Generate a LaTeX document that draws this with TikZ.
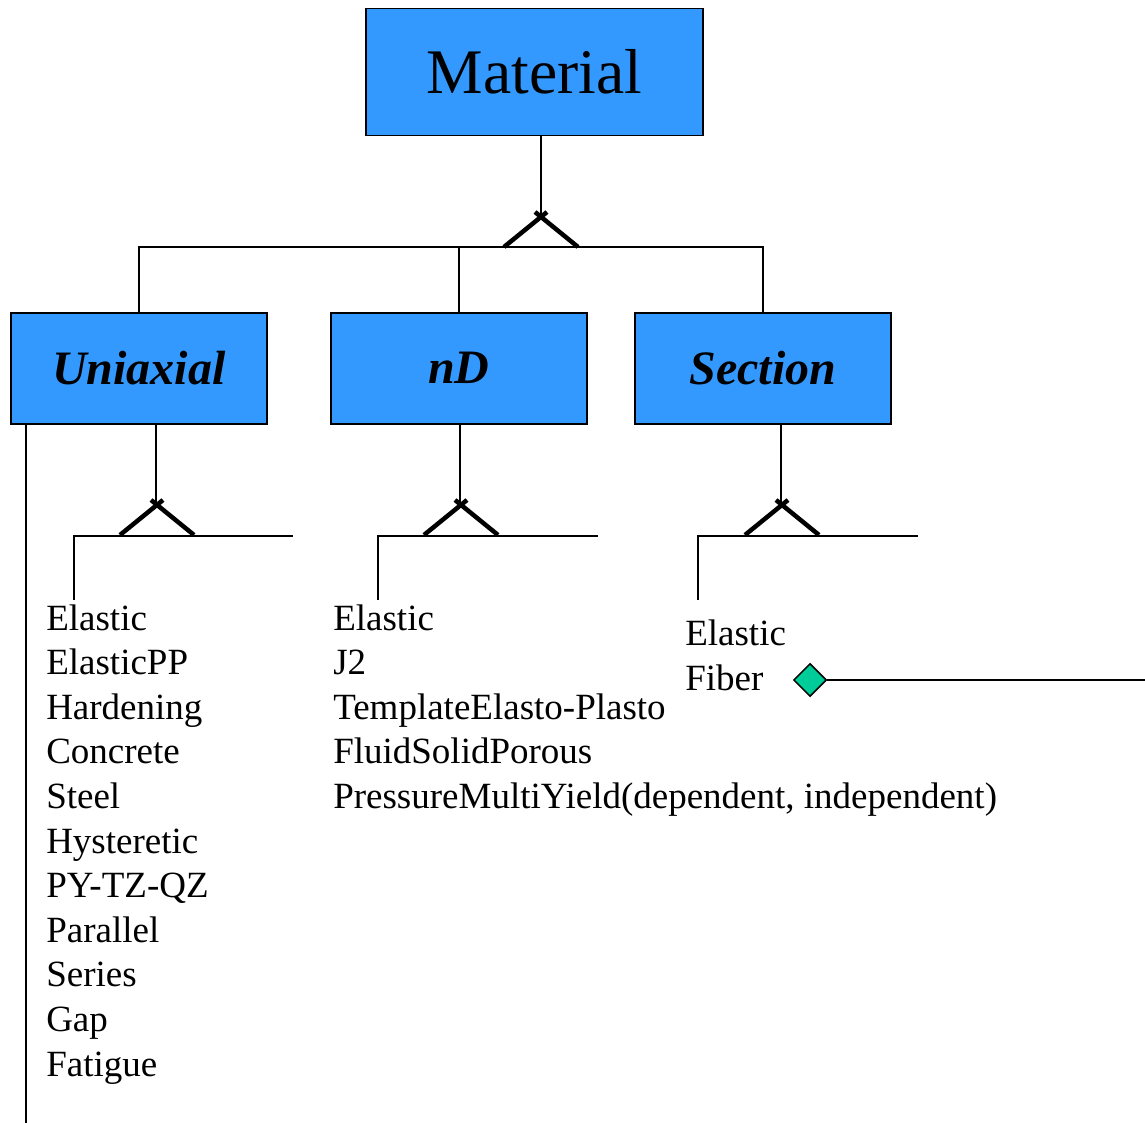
\documentclass[tikz,border=0pt]{standalone}
\usepackage{fontspec}
\setmainfont{Liberation Serif}
\usepackage{xcolor}
\usetikzlibrary{shapes.geometric,positioning,calc}

\definecolor{boxblue}{HTML}{3399FF}
\definecolor{aggteal}{HTML}{00CC99}

% generalization mark with apex at (#1,#2)
\newcommand{\genmark}[2]{%
  \draw[genline] (#1-37,#2+30) -- (#1+6,#2-5);
  \draw[genline] (#1+37,#2+30) -- (#1-6,#2-5);}

\begin{document}
\begin{tikzpicture}[
    x=1pt, y=-1pt,
    line width=1.5pt,
    classbox/.style={draw, line width=1.5pt, fill=boxblue, inner sep=0pt, anchor=north west},
    genline/.style={line width=4.5pt},
    item/.style={anchor=base west, inner sep=0pt, font=\fontsize{37}{44.6}\selectfont},
    boxlabel/.style={font=\fontsize{48}{56}\selectfont\bfseries\itshape}
]
    \useasboundingbox (0,0) rectangle (1145,1123);

    % classes
    \node[classbox, minimum width=337pt, minimum height=127pt, font=\fontsize{63.5}{70}\selectfont] (material) at (365,8) {Material};
    \node[classbox, boxlabel, minimum width=256pt, minimum height=111pt] (uniaxial) at (10,312) {Uniaxial};
    \node[classbox, boxlabel, minimum width=256pt, minimum height=111pt] (nd) at (330,312) {nD};
    \node[classbox, boxlabel, minimum width=256pt, minimum height=111pt] (section) at (634,312) {Section};

    % top level inheritance
    \coordinate (top) at (541,217);
    \draw (material.south -| top) -- (top);
    \genmark{541}{217}
    \draw (uniaxial.north) -- ++(0,-65) -| (section.north);
    \draw (nd.north) -- ++(0,-65);

    % sub level inheritance
    \coordinate (ua) at (156,505);
    \coordinate (na) at (460,505);
    \coordinate (sa) at (781,505);
    \draw (ua |- uniaxial.south) -- (ua);
    \draw (na |- nd.south) -- (na);
    \draw (sa |- section.south) -- (sa);
    \genmark{157}{505}
    \genmark{461}{505}
    \genmark{782}{505}
    \coordinate (ubar) at (74,536);
    \coordinate (nbar) at (378,536);
    \coordinate (sbar) at (698,536);
    \draw (ubar) ++(0,64) -- (ubar) -- ++(219,0);
    \draw (nbar) ++(0,64) -- (nbar) -- ++(220,0);
    \draw (sbar) ++(0,64) -- (sbar) -- ++(220,0);

    % long line down the left
    \draw ([xshift=16pt]uniaxial.south west) -- ++(0,700);

    % uniaxial materials
    \foreach \name [count=\i from 0] in {Elastic, ElasticPP, Hardening, Concrete, Steel, Hysteretic, PY-TZ-QZ, Parallel, Series, Gap, Fatigue}
        \node[item] (uni\i) at (45.5,630+44.6*\i) {\name};

    % nD materials
    \foreach \name [count=\i from 0] in {Elastic, J2, TemplateElasto-Plasto, FluidSolidPorous, {PressureMultiYield(dependent, independent)}}
        \node[item] (nd\i) at (332.5,630+44.6*\i) {\name};

    % section types
    \node[item] (sec0) at (684.5,645) {Elastic};
    \node[item] (sec1) at (684.5,690) {Fiber};

    % aggregation
    \node[diamond, draw, fill=aggteal, line width=1.5pt, inner sep=0pt, minimum size=33pt] (agg) at (810,680) {};
    \coordinate (fiberend) at (1145,680);
    \draw (agg.east) -- (fiberend);
\end{tikzpicture}
\end{document}
